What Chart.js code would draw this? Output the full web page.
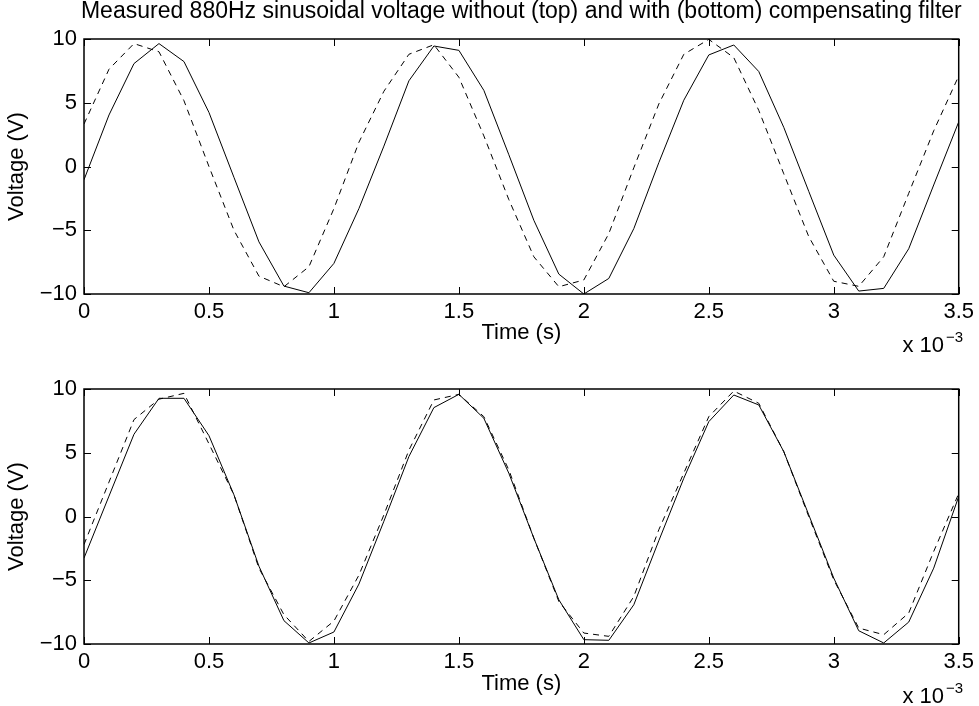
<!DOCTYPE html>
<html><head><meta charset="utf-8">
<script src="https://cdn.jsdelivr.net/npm/chart.js@4/dist/chart.umd.min.js"></script>
<style>
html,body{margin:0;padding:0;background:#fff;width:979px;height:706px;overflow:hidden;}
canvas{position:absolute;left:0;}
#c1{top:0;} #c2{top:353px;}
</style></head><body>
<canvas id="c1" width="979" height="353"></canvas>
<canvas id="c2" width="979" height="353"></canvas>
<script>
// Time axis, in units of 1e-3 s
const timeMs = [0, 0.1, 0.2, 0.3, 0.4, 0.5, 0.6, 0.7, 0.8, 0.9, 1.0, 1.1, 1.2, 1.3, 1.4, 1.5, 1.6, 1.7,
  1.8, 1.9, 2.0, 2.1, 2.2, 2.3, 2.4, 2.5, 2.6, 2.7, 2.8, 2.9, 3.0, 3.1, 3.2, 3.3, 3.4, 3.5];

// Top: without compensating filter
const topSolid = [-1.04, 4.04, 8.07, 9.64, 8.23, 4.24, -0.85, -5.91, -9.38, -9.9, -7.6, -3.3, 1.6, 6.72,
  9.45, 9.11, 5.97, 0.92, -4.22, -8.44, -10.0, -8.78, -4.87, 0.3, 5.2, 8.75, 9.53, 7.45, 3.07, -1.95,
  -6.95, -9.77, -9.56, -6.45, -1.45, 3.5];
const topDashed = [3.33, 7.63, 9.64, 9.0, 5.16, 0.0, -5.0, -8.6, -9.43, -7.86, -3.3, 1.9, 5.9, 8.8,
  9.55, 7.0, 2.4, -2.6, -7.08, -9.43, -8.9, -5.26, -0.1, 4.9, 8.8, 9.97, 8.54, 4.4, -0.57, -5.5,
  -9.0, -9.4, -7.08, -2.1, 2.8, 7.1];

// Bottom: with compensating filter
const bottomSolid = [-3.26, 1.6, 6.45, 9.27, 9.27, 6.34, 1.7, -3.9, -8.17, -9.92, -9.06, -5.3, -0.37, 4.7,
  8.54, 9.58, 7.7, 3.39, -1.7, -6.53, -9.66, -9.71, -6.92, -1.9, 3.0, 7.44, 9.53, 8.75, 5.09, 0.13,
  -4.83, -8.96, -9.92, -8.28, -4.05, 1.57];
const bottomDashed = [-2.2, 2.7, 7.6, 9.2, 9.66, 5.7, 1.7, -4.05, -7.7, -9.8, -8.2, -4.6, 0.13, 5.2,
  9.14, 9.58, 7.83, 3.65, -1.7, -6.66, -9.14, -9.4, -6.27, -1.04, 3.4, 7.83, 9.84, 8.88, 5.09, 0.0,
  -4.96, -8.75, -9.27, -7.57, -2.74, 1.8];

const xTicks = [0, 0.5, 1, 1.5, 2, 2.5, 3, 3.5];
const yTicks = [-10, -5, 0, 5, 10];
const titleText = 'Measured 880Hz sinusoidal voltage without (top) and with (bottom) compensating filter';
const xLabel = 'Time (s)';
const yLabel = 'Voltage (V)';

const FONT = '"Liberation Sans", Arial, Helvetica, sans-serif';
Chart.defaults.font.family = FONT;
Chart.defaults.color = '#000';

const pts = (ys) => timeMs.map((t, i) => ({x: t, y: ys[i]}));

const framePlugin = {
  id: 'frame',
  afterDatasetsDraw(chart, args, opts) {
    const {ctx, chartArea: a, scales: {x, y}} = chart;
    ctx.save();
    ctx.strokeStyle = '#000';
    ctx.lineWidth = 1.5;
    ctx.strokeRect(a.left, a.top, a.right - a.left, a.bottom - a.top);
    ctx.lineWidth = 1;
    ctx.beginPath();
    x.ticks.forEach(t => {
      const px = Math.round(x.getPixelForValue(t.value)) + 0.5;
      ctx.moveTo(px, a.bottom); ctx.lineTo(px, a.bottom - 7);
      ctx.moveTo(px, a.top); ctx.lineTo(px, a.top + 7);
    });
    y.ticks.forEach(t => {
      const py = Math.round(y.getPixelForValue(t.value)) + 0.5;
      ctx.moveTo(a.left, py); ctx.lineTo(a.left + 7, py);
      ctx.moveTo(a.right, py); ctx.lineTo(a.right - 7, py);
    });
    ctx.stroke();
    ctx.fillStyle = '#000';
    ctx.textBaseline = 'alphabetic';
    if (opts.title) {
      ctx.font = '23px ' + FONT;
      ctx.textAlign = 'center';
      ctx.fillText(opts.title, (a.left + a.right) / 2, opts.titleY);
    }
    // exponent label "x 10^-3"
    ctx.font = '22px ' + FONT;
    ctx.textAlign = 'right';
    ctx.fillText('x 10', opts.expX, opts.expY);
    ctx.font = '15px ' + FONT;
    ctx.textAlign = 'left';
    ctx.fillText('\u22123', opts.expX + 2, opts.expY - 10);
    ctx.restore();
  }
};

function makeChart(id, solid, dashed, cfg) {
  return new Chart(document.getElementById(id), {
    type: 'line',
    data: {
      datasets: [
        {data: pts(solid), borderColor: '#000', borderWidth: 1, pointRadius: 0, tension: 0, fill: false},
        {data: pts(dashed), borderColor: '#000', borderWidth: 1, borderDash: [6, 5], pointRadius: 0, tension: 0, fill: false}
      ]
    },
    options: {
      responsive: false,
      animation: false,
      devicePixelRatio: 1,
      layout: {padding: {left: 0, right: 20, top: cfg.padTop, bottom: 0}},
      plugins: {
        legend: {display: false},
        tooltip: {enabled: false},
        frame: {title: cfg.title, titleY: cfg.titleY, expX: 944, expY: cfg.expY}
      },
      scales: {
        x: {
          type: 'linear', min: 0, max: 3.5,
          afterBuildTicks: s => { s.ticks = xTicks.map(v => ({value: v})); },
          afterFit: s => { s.height = cfg.xHeight; },
          grid: {display: false, drawTicks: false},
          border: {display: false},
          ticks: {autoSkip: false, maxRotation: 0, padding: 5, font: {size: 22}, callback: v => String(v)},
          title: {display: true, text: xLabel, font: {size: 22}, padding: {top: 0, bottom: cfg.xTitlePad}}
        },
        y: {
          type: 'linear', min: -10, max: 10,
          afterBuildTicks: s => { s.ticks = yTicks.map(v => ({value: v})); },
          afterFit: s => { s.width = 84; },
          grid: {display: false, drawTicks: false},
          border: {display: false},
          ticks: {padding: 7, font: {size: 22}, callback: v => (v < 0 ? '\u2212' + Math.abs(v) : String(v))},
          title: {display: true, text: yLabel, font: {size: 22}, padding: {top: 4, bottom: 0}}
        }
      }
    },
    plugins: [framePlugin]
  });
}

makeChart('c1', topSolid, topDashed, {padTop: 39, xHeight: 59, xTitlePad: 7, title: titleText, titleY: 18, expY: 352});
makeChart('c2', bottomSolid, bottomDashed, {padTop: 36, xHeight: 62, xTitlePad: 9, title: null, titleY: 0, expY: 350});
</script>
</body></html>
